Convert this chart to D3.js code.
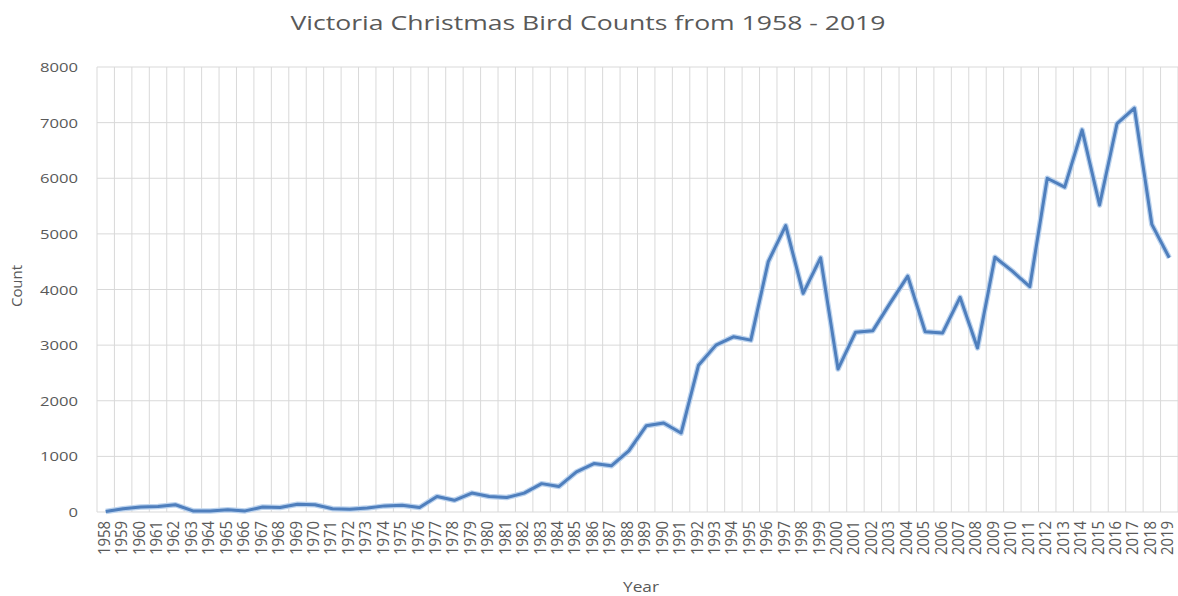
<!DOCTYPE html>
<html>
<head>
<meta charset="utf-8">
<script src="https://cdn.jsdelivr.net/npm/d3@7"></script>
<style>
  body { margin: 0; background: #fff; }
  svg text { font-family: "Open Sans", "Liberation Sans", sans-serif; fill: #595959; }
</style>
</head>
<body>
<svg id="chart" width="1178" height="596"></svg>
<script>
// years 1958..2019
const years = d3.range(1958, 2020).map(String);
// bird counts
const counts = [
  10, 60, 90, 100, 130, 20, 20, 40, 20, 90,
  80, 140, 130, 60, 50, 70, 110, 120, 80, 280,
  210, 340, 280, 260, 340, 510, 460, 720, 870, 830,
  1100, 1550, 1600, 1420, 2640, 3000, 3150, 3090, 4500, 5150,
  3930, 4570, 2570, 3230, 3260, 3760, 4240, 3240, 3220, 3860,
  2950, 4580, 4330, 4050, 6000, 5840, 6870, 5520, 6980, 7260,
  5170, 4570
];
const yTicks = [0, 1000, 2000, 3000, 4000, 5000, 6000, 7000, 8000];

const svg = d3.select("#chart");
const margin = { top: 67, right: 0, bottom: 84, left: 97 };
const width = 1178 - margin.left - margin.right;
const height = 596 - margin.top - margin.bottom;

const g = svg.append("g").attr("transform", `translate(${margin.left},${margin.top})`);

const x = d3.scaleBand().domain(years).range([0, width]);
const y = d3.scaleLinear().domain([0, 8000]).range([height, 0]);

// horizontal gridlines
g.selectAll(".hgrid")
  .data(yTicks)
  .enter().append("line")
  .attr("x1", 0).attr("x2", width)
  .attr("y1", d => y(d)).attr("y2", d => y(d))
  .attr("stroke", "#d9d9d9").attr("stroke-width", 1);

// vertical gridlines at category edges
g.selectAll(".vgrid")
  .data(years.concat(["end"]))
  .enter().append("line")
  .attr("x1", (d, i) => i * x.bandwidth()).attr("x2", (d, i) => i * x.bandwidth())
  .attr("y1", 0).attr("y2", height)
  .attr("stroke", "#d9d9d9").attr("stroke-width", 1);

// y axis labels
g.selectAll(".ylab")
  .data(yTicks)
  .enter().append("text")
  .attr("x", -19).attr("y", d => y(d) + 5)
  .attr("text-anchor", "end")
  .attr("font-size", 13)
  .attr("textLength", d => String(d).length * 9.5).attr("lengthAdjust", "spacingAndGlyphs")
  .text(d => d);

// x axis labels, rotated
g.selectAll(".xlab")
  .data(years)
  .enter().append("text")
  .attr("transform", d => `translate(${x(d) + x.bandwidth() / 2 + 4},${height + 9}) scale(1.3,1) rotate(-90)`)
  .attr("text-anchor", "end")
  .attr("font-size", 12)
  .attr("textLength", 34).attr("lengthAdjust", "spacingAndGlyphs")
  .text(d => d);

// line
const line = d3.line()
  .x((d, i) => x(years[i]) + x.bandwidth() / 2)
  .y(d => y(d));

g.append("path")
  .datum(counts)
  .attr("fill", "none")
  .attr("stroke", "#bcd3ee")
  .attr("stroke-width", 5.5)
  .attr("stroke-linejoin", "round")
  .attr("d", line);

g.append("path")
  .datum(counts)
  .attr("fill", "none")
  .attr("stroke", "#4f7fbd")
  .attr("stroke-width", 3)
  .attr("stroke-linejoin", "round")
  .attr("d", line);

// title
svg.append("text")
  .attr("x", 588).attr("y", 30)
  .attr("text-anchor", "middle")
  .attr("font-size", 20)
  .attr("textLength", 595).attr("lengthAdjust", "spacingAndGlyphs")
  .text("Victoria Christmas Bird Counts from 1958 - 2019");

// axis titles
svg.append("text")
  .attr("x", 641).attr("y", 592)
  .attr("text-anchor", "middle")
  .attr("font-size", 14)
  .attr("textLength", 36).attr("lengthAdjust", "spacingAndGlyphs")
  .text("Year");

svg.append("text")
  .attr("transform", "translate(22,286) rotate(-90)")
  .attr("text-anchor", "middle")
  .attr("font-size", 14)
  .attr("textLength", 42).attr("lengthAdjust", "spacingAndGlyphs")
  .text("Count");
</script>
</body>
</html>
